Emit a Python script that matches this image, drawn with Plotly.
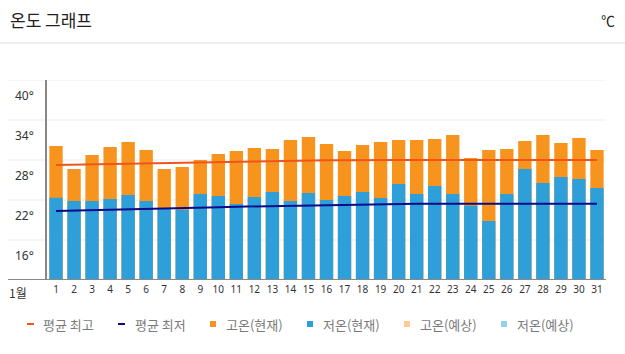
import plotly.graph_objects as go

days = list(range(1, 32))
day_labels = [str(d) for d in days]
high_now = [30.1, 26.65, 28.75, 29.95, 30.7, 29.5, 26.65, 26.95, 28.0, 28.9,
            29.35, 29.8, 29.65, 31.0, 31.45, 30.4, 29.35, 30.25, 30.7, 31.0,
            31.0, 31.15, 31.75, 28.3, 29.5, 29.65, 30.85, 31.75, 30.55, 31.3, 29.5]
low_now = [22.35, 21.85, 21.85, 22.15, 22.75, 21.85, 20.8, 20.55, 22.9, 22.6,
           21.4, 22.45, 23.2, 21.85, 23.05, 22.0, 22.6, 23.2, 22.3, 24.4,
           22.9, 24.1, 22.9, 21.15, 18.85, 22.9, 26.65, 24.55, 25.45, 25.15, 23.8]
avg_high = [27.25, 27.3, 27.35, 27.4, 27.45, 27.5, 27.55, 27.6, 27.7, 27.75,
            27.8, 27.8, 27.85, 27.9, 27.9, 27.95, 27.95, 28.0, 28.0, 28.0,
            28.0, 28.0, 28.0, 28.0, 28.0, 28.0, 28.0, 28.0, 28.0, 28.0, 28.0]
avg_low = [20.35, 20.4, 20.45, 20.5, 20.55, 20.6, 20.7, 20.75, 20.85, 20.9,
           21.0, 21.05, 21.1, 21.2, 21.25, 21.3, 21.35, 21.4, 21.4, 21.45,
           21.45, 21.45, 21.45, 21.45, 21.45, 21.45, 21.45, 21.45, 21.45, 21.45, 21.45]
y_ticks = [16, 22, 28, 34, 40]
y_tick_labels = ["16°", "22°", "28°", "34°", "40°"]
legend_names = ["평균 최고", "평균 최저", "고온(현재)", "저온(현재)", "고온(예상)", "저온(예상)"]

C_HIGH = "#F7941D"
C_LOW = "#2E9FD9"
C_AVG_HIGH = "#F2541B"
C_AVG_LOW = "#0A0A8C"
C_HIGH_F = "#FFC993"
C_LOW_F = "#93CFEE"

W, H = 625, 354
L, R, T, B = 47, 19, 80, 74
PW = W - L - R

def px_x(x):
    return (x - L) / PW

def py(y):
    return (H - B - y) / (H - T - B)

fig = go.Figure()
fig.add_bar(x=days, y=high_now, marker_color=C_HIGH, marker_line_width=0, name=legend_names[2])
fig.add_bar(x=days, y=low_now, marker_color=C_LOW, marker_line_width=0, name=legend_names[3])
fig.add_scatter(x=days, y=avg_high, mode="lines", line=dict(color=C_AVG_HIGH, width=2), name=legend_names[0])
fig.add_scatter(x=days, y=avg_low, mode="lines", line=dict(color=C_AVG_LOW, width=2), name=legend_names[1])

shapes = []
for v in y_ticks:
    shapes.append(dict(type="line", xref="paper", yref="y", x0=px_x(8), x1=1, y0=v, y1=v,
                       line=dict(color="#EBEBEB", width=1), layer="below"))
shapes.append(dict(type="line", xref="paper", yref="y", x0=px_x(8), x1=1, y0=10, y1=10,
                   line=dict(color="#888888", width=2)))
# header separator
shapes.append(dict(type="line", xref="paper", yref="paper", x0=px_x(0), x1=px_x(625),
                   y0=py(43), y1=py(43), line=dict(color="#DDDDDD", width=1)))

annotations = []
for v, t in zip(y_ticks, y_tick_labels):
    annotations.append(dict(x=px_x(36), y=v, xref="paper", yref="y", text=t, showarrow=False,
                            xanchor="right", yanchor="middle", yshift=-15,
                            font=dict(size=12, color="#333333", family="Noto Sans")))
annotations.append(dict(x=px_x(18), y=10, xref="paper", yref="y", text="1월", showarrow=False,
                        xanchor="center", yanchor="middle", yshift=-12,
                        font=dict(size=12, color="#333333", family="Noto Sans CJK KR")))
annotations.append(dict(x=px_x(8), y=py(20), xref="paper", yref="paper", text="온도 그래프",
                        showarrow=False, xanchor="left", yanchor="middle",
                        font=dict(size=17, color="#222222", family="Noto Sans CJK KR")))
annotations.append(dict(x=px_x(617), y=py(20), xref="paper", yref="paper", text="℃",
                        showarrow=False, xanchor="right", yanchor="middle",
                        font=dict(size=14, color="#222222", family="Noto Sans CJK KR")))

# custom legend
ly = py(324)
leg_items = [
    ("line", C_AVG_HIGH, 27, 41),
    ("line", C_AVG_LOW, 118, 133),
    ("sq", C_HIGH, 210, 224),
    ("sq", C_LOW, 307, 321),
    ("sq", C_HIGH_F, 404, 418),
    ("sq", C_LOW_F, 501, 515),
]
for (kind, col, mx, tx), name in zip(leg_items, legend_names):
    if kind == "line":
        shapes.append(dict(type="line", xref="paper", yref="paper", x0=px_x(mx), x1=px_x(mx + 7),
                           y0=ly, y1=ly, line=dict(color=col, width=2)))
    else:
        shapes.append(dict(type="rect", xref="paper", yref="paper", x0=px_x(mx), x1=px_x(mx + 6),
                           y0=py(321), y1=py(327), fillcolor=col, line=dict(width=0)))
    annotations.append(dict(x=px_x(tx), y=ly, xref="paper", yref="paper", text=name,
                            showarrow=False, xanchor="left", yanchor="middle",
                            font=dict(size=13, color="#7A7A7A", family="Noto Sans CJK KR")))

fig.update_layout(
    width=W, height=H,
    margin=dict(l=L, r=R, t=T, b=B),
    paper_bgcolor="white", plot_bgcolor="white",
    barmode="overlay", bargap=0.26,
    showlegend=False,
    shapes=shapes, annotations=annotations,
    xaxis=dict(range=[0.5, 31.5], tickmode="array", tickvals=days, ticktext=day_labels,
               showgrid=False, zeroline=False, showline=False, ticks="",
               tickfont=dict(size=10, color="#333333", family="Noto Sans"), ticklabelstandoff=2),
    yaxis=dict(range=[10, 40], showgrid=False, zeroline=False, showticklabels=False,
               showline=True, linecolor="#888888", linewidth=2, ticks=""),
)

fig.write_html("out.html")
